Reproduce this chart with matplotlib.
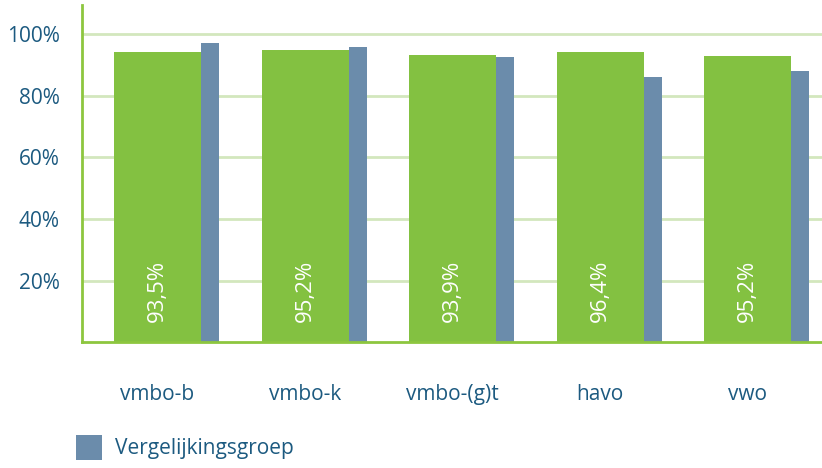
import numpy as np
import matplotlib.pyplot as plt

plt.rcParams['font.family'] = ['Open Sans', 'DejaVu Sans']

categories = ['vmbo-b', 'vmbo-k', 'vmbo-(g)t', 'havo', 'vwo']
school = [94.1, 94.8, 93.2, 94.1, 92.8]
school_labels = ['93,5%', '95,2%', '93,9%', '96,4%', '95,2%']
vergelijking = [97.1, 95.8, 92.5, 86.0, 88.0]
yticks = [20, 40, 60, 80, 100]

green = '#83c141'
blue = '#6b8cab'
textc = '#1c5a80'

fig = plt.figure(figsize=(8.22, 4.68), dpi=100)
ax = fig.add_axes([0.0998, 0.269, 0.9002, 0.72])

x = np.arange(len(categories))
gw, bw = 0.59, 0.122
ax.bar(x, school, gw, color=green, zorder=2)
hb = ax.bar(x + gw / 2 + bw / 2, vergelijking, bw, color=blue, zorder=2,
            label='Vergelijkingsgroep')

for xi, lab in zip(x, school_labels):
    ax.text(xi, 16.5, lab, rotation=90, ha='center', va='center',
            color='white', fontsize=16, zorder=3)

ax.set_xlim(-0.512, 4.505)
ax.set_ylim(0, 109.4)
ax.set_yticks(yticks)
ax.set_yticklabels([f'{v}%' for v in yticks])
ax.set_xticks(x)
ax.set_xticklabels(categories)
ax.tick_params(axis='y', length=0, pad=16, labelsize=15, labelcolor=textc)
ax.tick_params(axis='x', length=0, pad=30, labelsize=15, labelcolor=textc)

for v in yticks:
    ax.axhline(v, color='#d3e7bd', lw=2, zorder=1)

for s in ['top', 'right']:
    ax.spines[s].set_visible(False)
for s in ['left', 'bottom']:
    ax.spines[s].set_color('#8dc63f')
    ax.spines[s].set_linewidth(2)

fig.legend(handles=[hb], loc='lower left', bbox_to_anchor=(0.07, -0.022),
           frameon=False, fontsize=15, labelcolor=textc,
           handlelength=1.25, handleheight=1.45, handletextpad=0.6)

fig.savefig('out.png', dpi=100)
